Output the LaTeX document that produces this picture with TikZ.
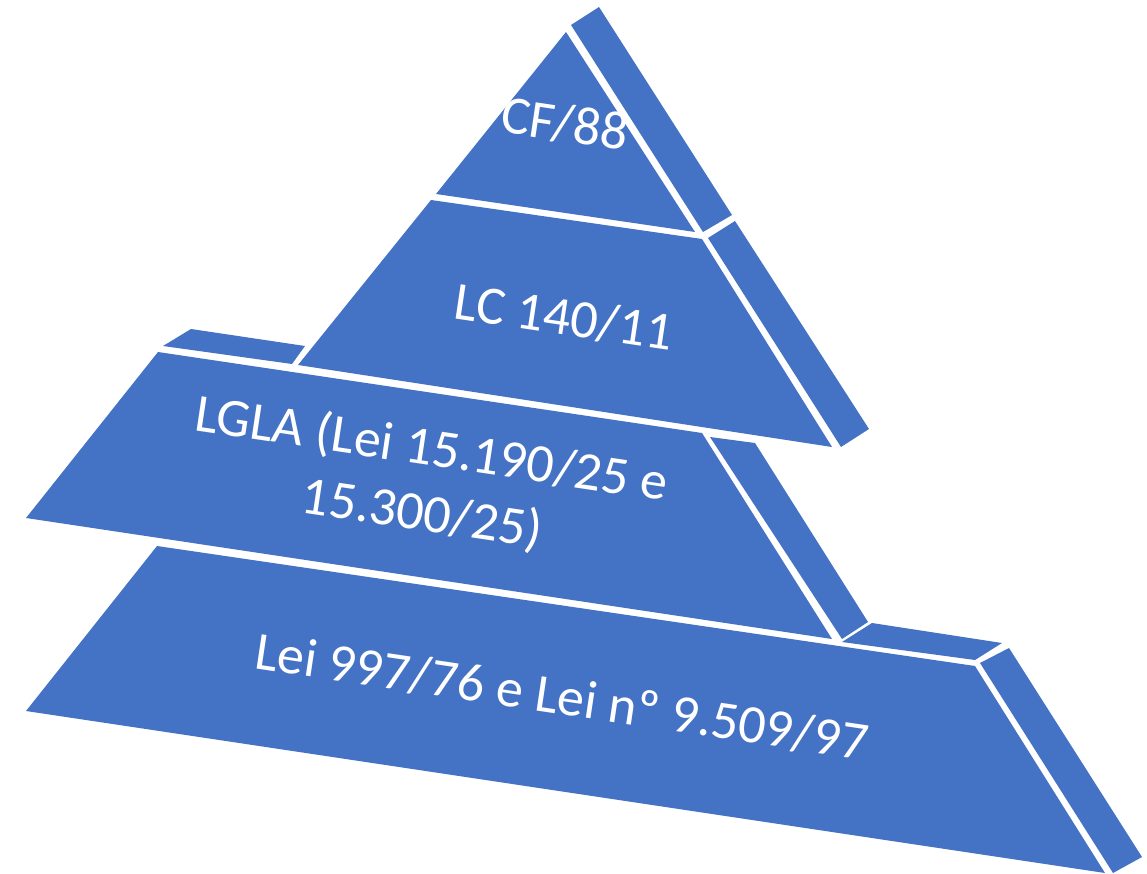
\documentclass[tikz,border=0pt]{standalone}
\usepackage{fontspec}
\setmainfont{Carlito}
\definecolor{pblue}{HTML}{4472C4}
\begin{document}
\begin{tikzpicture}[x=1pt,y=-1pt,
  face/.style={fill=pblue, draw=none},
  lbl/.style={text=white, font=\fontsize{54}{65}\selectfont, rotate=-8.5, align=center, inner sep=0pt}]
\useasboundingbox (0,0) rectangle (1147,874);
% tier 1 (top)
\fill[face] (566,32) -- (436,194) -- (695,232) -- cycle;
\fill[face] (571,25) -- (599,7) -- (732,215) -- (703,232) -- cycle;
% tier 2
\fill[face] (431,200) -- (702,239) -- (832,447) -- (298,365) -- cycle;
\fill[face] (708,238) -- (735,221) -- (869,429) -- (841,447) -- cycle;
% tier 3
\fill[face] (163,346) -- (191,329) -- (305,346) -- (292,364) -- cycle;
\fill[face] (158,352) -- (702,433) -- (832,639) -- (26,518) -- cycle;
\fill[face] (710,437) -- (755,443) -- (868,622) -- (842,639) -- cycle;
% tier 4 (bottom)
\fill[face] (842,642) -- (872,623) -- (1002,643) -- (975,660) -- cycle;
\fill[face] (157,546) -- (975,666) -- (1105,873) -- (26,711) -- cycle;
\fill[face] (980,663) -- (1009,648) -- (1142,857) -- (1113,873) -- cycle;
% labels
\node[lbl] (cf) at (565,124) {CF/88};
\node[lbl] (lc) at (564,317) {LC 140/11};
\node[lbl] (lgla) at (427,482) {LGLA (Lei 15.190/25 e\\15.300/25)};
\node[lbl] (lei) at (562,697) {Lei 997/76 e Lei nº 9.509/97};
\end{tikzpicture}
\end{document}
